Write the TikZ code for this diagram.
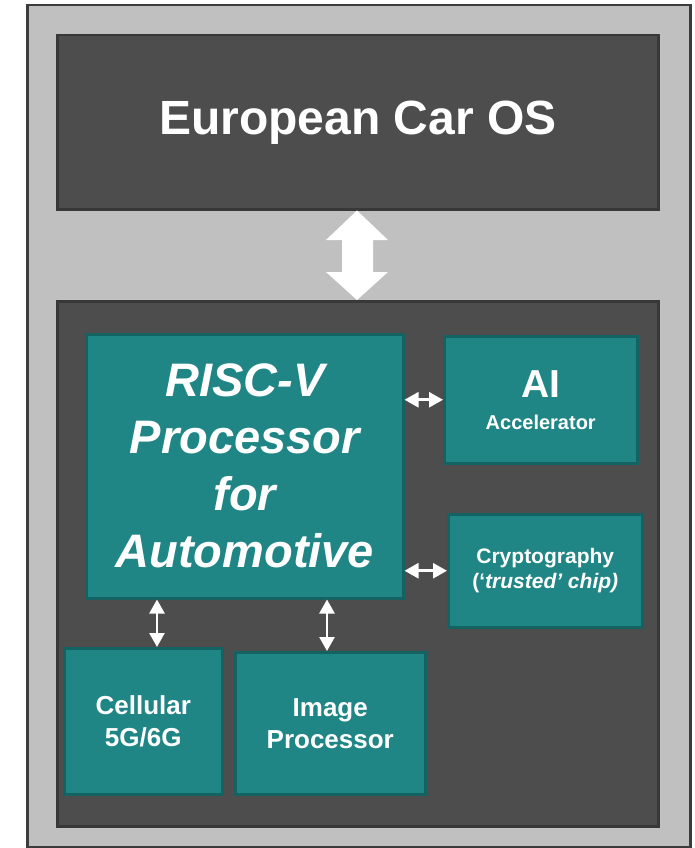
\documentclass[tikz,border=0pt]{standalone}
\usepackage{fontspec}
\setmainfont{Liberation Sans}
\usetikzlibrary{arrows.meta,calc}
\definecolor{panelgray}{HTML}{C0C0C0}
\definecolor{framegray}{HTML}{3C3C3C}
\definecolor{darkfill}{HTML}{4D4D4D}
\definecolor{darkedge}{HTML}{383838}
\definecolor{tealfill}{HTML}{1F8585}
\definecolor{tealedge}{HTML}{156262}
\tikzset{
  darkbox/.style={draw=darkedge, fill=darkfill, line width=2.5pt, inner sep=0pt, anchor=north west},
  tealbox/.style={draw=tealedge, fill=tealfill, line width=2.5pt, inner sep=0pt, anchor=north west,
                  text=white, align=center, font=\bfseries},
  link/.style={draw=white, line width=2.6pt, {Triangle[length=14pt,width=15pt]}-{Triangle[length=14pt,width=15pt]}},
}
\begin{document}
\begin{tikzpicture}[x=1pt,y=-1pt]
  \useasboundingbox (0,0) rectangle (695,848);
  % outer panel
  \node[draw=framegray, fill=panelgray, line width=2.5pt, inner sep=0pt, anchor=north west,
        minimum width=663pt, minimum height=842pt] (panel) at (26,4) {};
  % operating system layer
  \node[darkbox, minimum width=601pt, minimum height=174pt] (os) at (56,34) {};
  \node[text=white, font=\fontsize{48}{52}\selectfont\bfseries] (ostext) at (os.center) {European Car OS};
  % hardware layer
  \node[darkbox, minimum width=601pt, minimum height=525pt] (hw) at (56,300) {};
  % big bidirectional arrow between the layers
  \fill[white] (os.south -| 357,0) -- (388,240) -- (373,240) -- (373,272) -- (388,272)
     -- (hw.north -| 357,0) -- (326,272) -- (342,272) -- (342,240) -- (326,240) -- cycle;
  % processor and peripherals
  \node[tealbox, minimum width=317pt, minimum height=264pt,
        font=\fontsize{47}{57}\selectfont\bfseries\itshape] (risc) at (85,333)
        {RISC-V\\Processor\\for\\Automotive};
  \node[tealbox, minimum width=193pt, minimum height=127pt,
        font=\fontsize{20}{24}\selectfont\bfseries] (ai) at (443,335)
        {{\fontsize{39}{40}\selectfont AI}\\[8pt]Accelerator};
  \node[tealbox, minimum width=194pt, minimum height=113pt,
        font=\fontsize{21}{25}\selectfont\bfseries] (crypto) at (447,513)
        {Cryptography\\(‘\textit{trusted’ chip)}};
  \node[tealbox, minimum width=158pt, minimum height=146pt,
        font=\fontsize{26}{32}\selectfont\bfseries] (cell) at (63,647)
        {Cellular\\5G/6G};
  \node[tealbox, minimum width=190pt, minimum height=142pt,
        font=\fontsize{26}{32}\selectfont\bfseries] (img) at (234,651)
        {Image\\Processor};
  % connections
  \draw[link] (risc.east |- ai.west) -- (ai.west);
  \draw[link] (risc.east |- crypto.west) -- (crypto.west);
  \draw[link] (157,0 |- risc.south) -- (157,0 |- cell.north);
  \draw[link] (327,0 |- risc.south) -- (327,0 |- img.north);
\end{tikzpicture}
\end{document}
